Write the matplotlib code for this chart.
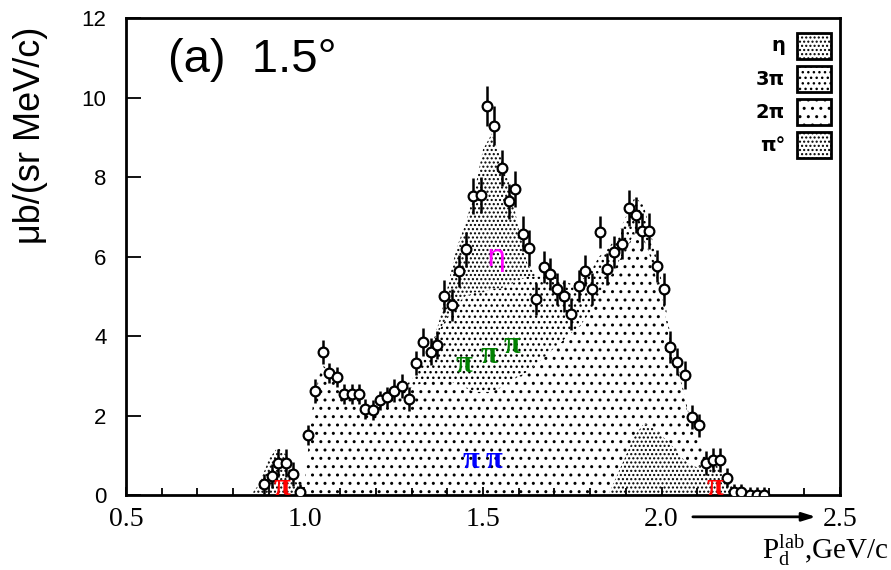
import numpy as np
import matplotlib
matplotlib.use('Agg')
import matplotlib.pyplot as plt
from matplotlib.patches import Rectangle

plt.rcParams['mathtext.fontset'] = 'stix'
plt.rcParams['hatch.linewidth'] = 1.0

# measured points
PT_X = [0.887, 0.908, 0.927, 0.948, 0.968, 0.988, 1.009, 1.030, 1.053, 1.069,
        1.090, 1.111, 1.132, 1.152, 1.170, 1.191, 1.212, 1.231, 1.252, 1.272,
        1.292, 1.313, 1.331, 1.353, 1.372, 1.392, 1.413, 1.432, 1.453, 1.471,
        1.493, 1.512, 1.532, 1.553, 1.572, 1.590, 1.612, 1.630, 1.649, 1.670,
        1.688, 1.707, 1.728, 1.747, 1.768, 1.787, 1.806, 1.827, 1.847, 1.866,
        1.888, 1.908, 1.928, 1.946, 1.965, 1.986, 2.006, 2.025, 2.044, 2.065,
        2.084, 2.105, 2.124, 2.143, 2.163, 2.184, 2.204, 2.224, 2.247, 2.267,
        2.288]
PT_Y = [0.28, 0.48, 0.81, 0.80, 0.53, 0.08, 1.51, 2.62, 3.61, 3.08,
        2.98, 2.55, 2.55, 2.55, 2.16, 2.14, 2.38, 2.46, 2.63, 2.75,
        2.41, 3.32, 3.86, 3.61, 3.78, 5.00, 4.79, 5.63, 6.18, 7.52,
        7.56, 9.79, 9.30, 8.23, 7.39, 7.71, 6.58, 6.22, 4.94, 5.74,
        5.56, 5.19, 5.00, 4.56, 5.27, 5.65, 5.19, 6.62, 5.69, 6.11,
        6.33, 7.23, 7.04, 6.64, 6.64, 5.76, 5.19, 3.72, 3.36, 3.02,
        1.97, 1.75, 0.81, 0.88, 0.88, 0.44, 0.08, 0.08, 0.00, 0.00,
        0.00]
PT_ERR = [0.25, 0.30, 0.35, 0.35, 0.30, 0.20, 0.25, 0.30, 0.30, 0.25,
          0.25, 0.25, 0.25, 0.25, 0.25, 0.25, 0.25, 0.25, 0.30, 0.30,
          0.30, 0.30, 0.35, 0.35, 0.35, 0.40, 0.40, 0.40, 0.45, 0.45,
          0.45, 0.50, 0.50, 0.45, 0.45, 0.45, 0.45, 0.45, 0.40, 0.40,
          0.40, 0.40, 0.40, 0.40, 0.40, 0.40, 0.40, 0.40, 0.40, 0.40,
          0.40, 0.45, 0.45, 0.45, 0.45, 0.40, 0.40, 0.40, 0.35, 0.35,
          0.30, 0.30, 0.30, 0.30, 0.30, 0.25, 0.20, 0.20, 0.20, 0.20,
          0.20]

# cumulative boundaries of the stacked model contributions
GRID = [0.850, 0.875, 0.900, 0.925, 0.950, 0.975, 1.000, 1.025, 1.050, 1.075,
        1.100, 1.125, 1.150, 1.175, 1.200, 1.225, 1.250, 1.275, 1.300, 1.325,
        1.350, 1.375, 1.400, 1.425, 1.450, 1.475, 1.500, 1.525, 1.550, 1.575,
        1.600, 1.625, 1.650, 1.675, 1.700, 1.725, 1.750, 1.775, 1.800, 1.825,
        1.850, 1.875, 1.900, 1.925, 1.950, 1.975, 2.000, 2.025, 2.050, 2.075,
        2.100, 2.125, 2.150, 2.175, 2.200, 2.225, 2.250]
TOP_PI0 = [0.0, 0.3, 0.9, 1.2, 1.0, 0.4, 0.0, 0.0, 0.0, 0.0,
           0.0, 0.0, 0.0, 0.0, 0.0, 0.0, 0.0, 0.0, 0.0, 0.0,
           0.0, 0.0, 0.0, 0.0, 0.0, 0.0, 0.0, 0.0, 0.0, 0.0,
           0.0, 0.0, 0.0, 0.0, 0.0, 0.0, 0.0, 0.0, 0.0, 0.0,
           0.0, 0.5, 1.0, 1.5, 1.8, 1.7, 1.5, 1.3, 1.0, 0.8,
           0.7, 0.8, 0.8, 0.5, 0.2, 0.0, 0.0]
TOP_2PI = [0.0, 0.3, 0.9, 1.2, 1.0, 0.4, 0.3, 2.4, 3.3, 3.0,
           2.7, 2.5, 2.4, 2.2, 2.2, 2.3, 2.5, 2.6, 2.7, 2.8,
           2.9, 2.9, 2.9, 2.8, 2.7, 2.6, 2.6, 2.6, 2.7, 2.8,
           3.0, 3.1, 3.3, 3.5, 3.7, 3.9, 4.1, 4.3, 4.6, 5.0,
           5.4, 5.8, 6.2, 6.6, 6.5, 5.8, 5.0, 3.8, 3.0, 2.0,
           1.5, 1.0, 0.8, 0.5, 0.2, 0.0, 0.0]
TOP_3PI = [0.0, 0.3, 0.9, 1.2, 1.0, 0.4, 0.3, 2.4, 3.3, 3.0,
           2.7, 2.5, 2.4, 2.2, 2.2, 2.3, 2.5, 2.7, 2.9, 3.3,
           3.7, 4.1, 4.5, 4.8, 5.0, 5.1, 5.1, 5.2, 5.2, 5.3,
           5.4, 5.5, 5.5, 5.5, 5.5, 5.4, 5.3, 5.4, 5.6, 6.0,
           6.2, 6.5, 7.0, 7.5, 7.3, 6.4, 5.4, 4.0, 3.1, 2.1,
           1.5, 1.0, 0.8, 0.5, 0.2, 0.0, 0.0]
TOP_ETA = [0.0, 0.3, 0.9, 1.2, 1.0, 0.4, 0.3, 2.4, 3.3, 3.0,
           2.7, 2.5, 2.4, 2.2, 2.2, 2.3, 2.5, 2.7, 2.9, 3.3,
           3.7, 4.3, 5.2, 6.2, 6.8, 7.6, 8.7, 9.1, 8.5, 7.8,
           6.7, 5.8, 5.5, 5.5, 5.5, 5.4, 5.3, 5.4, 5.6, 6.0,
           6.2, 6.5, 7.0, 7.5, 7.3, 6.4, 5.4, 4.0, 3.1, 2.1,
           1.5, 1.0, 0.8, 0.5, 0.2, 0.0, 0.0]

HATCH = {'pi0': '....', '2pi': '..', '3pi': '...', 'eta': '....'}
LEGEND = [('η', HATCH['eta']), ('3π', HATCH['3pi']), ('2π', HATCH['2pi']), ('π°', HATCH['pi0'])]

fig = plt.figure(figsize=(8.91, 5.70), dpi=100)
ax = fig.add_axes([0.1414, 0.1316, 0.8014, 0.8363])

x = np.array(GRID)
layers = [(np.zeros_like(x), TOP_PI0, HATCH['pi0']), (TOP_PI0, TOP_2PI, HATCH['2pi']),
          (TOP_2PI, TOP_3PI, HATCH['3pi']), (TOP_3PI, TOP_ETA, HATCH['eta'])]
for lo, hi, h in layers:
    ax.fill_between(x, lo, hi, facecolor='white', edgecolor='black', hatch=h, lw=0)

ax.errorbar(PT_X, PT_Y, yerr=PT_ERR, fmt='o', ms=7, mfc='white', mec='black', mew=1.6,
            ecolor='black', elinewidth=1.8, capsize=0, zorder=5)

ax.set_xlim(0.5, 2.5)
ax.set_ylim(0, 12)
ax.set_xticks([0.5, 1.0, 1.5, 2.0, 2.5])
ax.set_xticks(np.arange(0.6, 2.45, 0.1), minor=True)
ax.set_yticks(range(0, 13, 2))
ax.tick_params(axis='x', which='both', direction='in', top=False, pad=9)
ax.tick_params(axis='x', which='major', length=6, width=1.3)
ax.tick_params(axis='x', which='minor', length=5, width=1.3)
ax.tick_params(axis='y', direction='in', length=11, width=1.3, pad=14, labelsize=16)
for lab in ax.get_xticklabels():
    lab.set_family('Liberation Serif')
    lab.set_fontsize(20)
for lab in ax.get_yticklabels():
    lab.set_family('Liberation Sans')
for s in ax.spines.values():
    s.set_linewidth(2)

ax.text(0.059, 0.9125, '(a)  1.5°', transform=ax.transAxes, fontsize=34,
        family='Liberation Sans', ha='left', va='center')

# legend boxes
for i, (lab, h) in enumerate(LEGEND):
    yb = 0.915 - i * 0.0695
    ax.add_patch(Rectangle((0.940, yb), 0.0476, 0.0545, transform=ax.transAxes,
                           facecolor='white', edgecolor='black', hatch=h, lw=2, zorder=6))
    ax.text(0.923, yb + 0.027, lab, transform=ax.transAxes, fontsize=14, fontweight='bold',
            family='DejaVu Sans', ha='right', va='center')

# channel labels
lab_kw = dict(fontsize=22, family='Liberation Serif', fontweight='bold',
              ha='center', va='center', zorder=7)
ax.text(0.938, 0.2, 'π', color='red', **lab_kw)
ax.text(2.149, 0.2, 'π', color='red', **lab_kw)
for px, py in [(1.448, 3.28), (1.518, 3.5), (1.580, 3.76)]:
    ax.text(px, py, 'π', color='green', **lab_kw)
for px in [1.465, 1.530]:
    ax.text(px, 0.88, 'π', color='blue', **lab_kw)
ax.text(1.535, 5.97, 'η', color='magenta', fontsize=22, family='DejaVu Sans',
        ha='center', va='center', zorder=7)

ax.annotate('', xy=(2.44, -0.55), xytext=(2.08, -0.55), xycoords='data', annotation_clip=False,
            arrowprops=dict(arrowstyle='-|>,head_length=0.8,head_width=0.25', lw=2, color='black'))
fig.text(0.997, 0.02, r'$\mathregular{P_d^{lab}}$,GeV/c', fontsize=21, family='Liberation Serif',
         ha='right', va='baseline')
fig.text(0.034, 0.763, 'μb/(sr MeV/c)', rotation=90, fontsize=26, family='Liberation Sans',
         ha='center', va='center')

fig.savefig('out.png', dpi=100)
